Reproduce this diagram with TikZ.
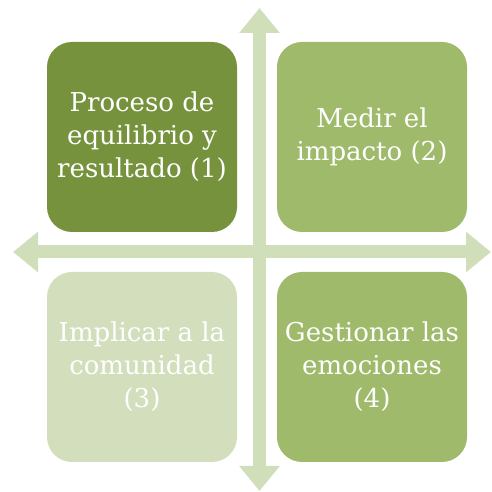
\documentclass[tikz,border=0pt]{standalone}
\usepackage{fontspec}
\setmainfont{DejaVu Serif}
\usepackage{tikz}
\usetikzlibrary{arrows.meta}
\definecolor{olivedark}{HTML}{76923C}
\definecolor{olivemid}{HTML}{9FBA6B}
\definecolor{olivepale}{HTML}{D2DEBC}
\definecolor{axisgreen}{HTML}{D0DEB9}
\tikzset{
  quadbox/.style={
    rectangle, fill=#1, rounded corners=25pt,
    minimum width=190pt, minimum height=190pt,
    text=white, align=center, inner sep=0pt,
    font=\fontsize{26}{33}\selectfont
  },
  quadbox/.default=olivemid,
  axisarrow/.style={
    {Triangle[width=39pt,length=25pt]}-{Triangle[width=39pt,length=25pt]},
    line width=13pt, draw=axisgreen
  },
}

\begin{document}
\begin{tikzpicture}[x=1pt, y=1pt]
  \useasboundingbox (0,0) rectangle (491,492);
  % axes
  \coordinate (axtop) at (259.5,484);
  \coordinate (axbottom) at (259.5,1);
  \coordinate (axleft) at (13,240);
  \coordinate (axright) at (491,240);
  \draw[axisarrow] (axbottom) -- (axtop);
  \draw[axisarrow] (axleft) -- (axright);
  % quadrants
  \node[quadbox=olivedark] (q1) at (142,355) {Proceso de\\equilibrio y\\resultado (1)};
  \node[quadbox=olivemid] (q2) at (372,355) {Medir el\\impacto (2)};
  \node[quadbox=olivepale] (q3) at (142,125) {Implicar a la\\comunidad\\(3)};
  \node[quadbox=olivemid] (q4) at (372,125) {Gestionar las\\emociones\\(4)};
\end{tikzpicture}
\end{document}
